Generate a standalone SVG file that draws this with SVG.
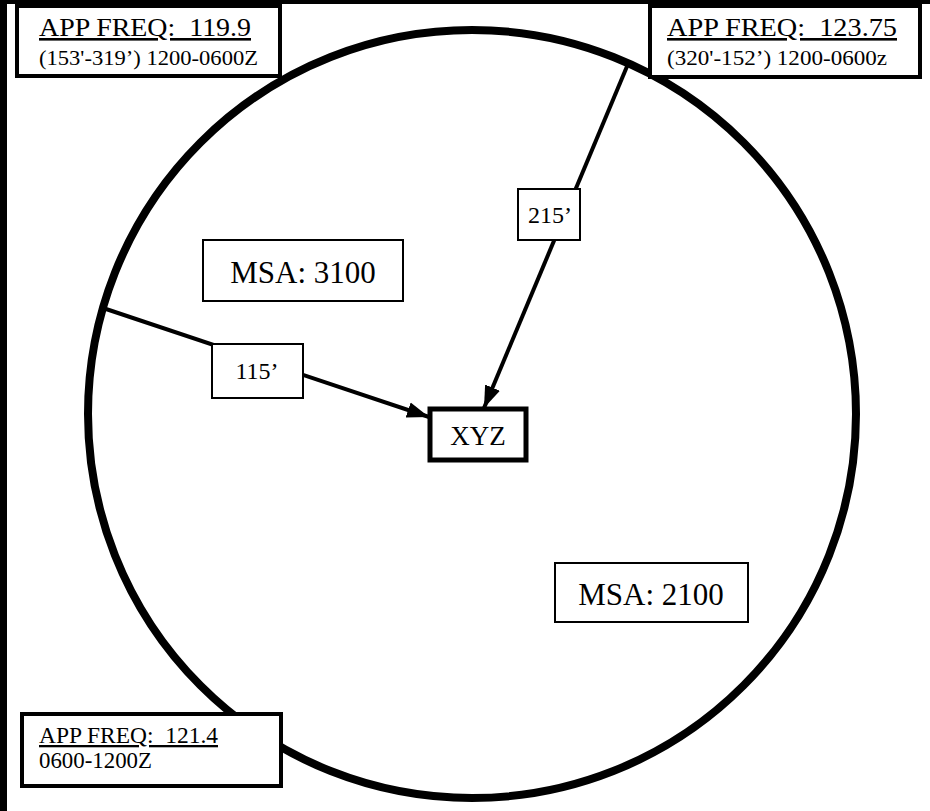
<svg xmlns="http://www.w3.org/2000/svg" width="930" height="811" viewBox="0 0 930 811">
  <defs>
    <marker id="arrow" markerUnits="userSpaceOnUse" markerWidth="24" markerHeight="18" refX="22" refY="9" orient="auto">
      <path d="M0,1 L22,9 L0,17 Z" fill="#000"/>
    </marker>
  </defs>
  <style>
    .frame { fill: #000; }
    .ring { fill: none; stroke: #000; stroke-width: 8; }
    .freqbox { fill: #fff; stroke: #000; stroke-width: 4; }
    .thinbox { fill: #fff; stroke: #000; stroke-width: 2; }
    .navbox { fill: #fff; stroke: #000; stroke-width: 5; }
    .conn { stroke: #000; stroke-width: 4; fill: none; marker-end: url(#arrow); }
    text { font-family: "Liberation Serif", "Times New Roman", serif; fill: #000; white-space: pre; }
    .u { text-decoration: underline; }
  </style>
  <rect width="930" height="811" fill="#fff"/>
  <g id="frame">
    <rect class="frame" x="0" y="0" width="7" height="811"/>
    <rect class="frame" x="0" y="0" width="930" height="4"/>
  </g>
  <g id="msa-circle">
    <circle class="ring" cx="472" cy="414" r="384"/>
  </g>
  <g id="connectors">
    <line class="conn" x1="103" y1="308" x2="429" y2="417"/>
    <line class="conn" x1="628" y1="64" x2="484" y2="408"/>
  </g>
  <g id="freq-119-9">
    <rect class="freqbox" x="17" y="6" width="263" height="70"/>
    <text class="u" x="39" y="36" font-size="26" textLength="212" lengthAdjust="spacingAndGlyphs">APP FREQ:  119.9</text>
    <text x="39" y="65" font-size="21" textLength="219" lengthAdjust="spacingAndGlyphs">(153'-319’) 1200-0600Z</text>
  </g>
  <g id="freq-123-75">
    <rect class="freqbox" x="650" y="6" width="270" height="71"/>
    <text class="u" x="667" y="36" font-size="26" textLength="230" lengthAdjust="spacingAndGlyphs">APP FREQ:  123.75</text>
    <text x="667" y="65" font-size="21" textLength="220" lengthAdjust="spacingAndGlyphs">(320'-152’) 1200-0600z</text>
  </g>
  <g id="freq-121-4">
    <rect class="freqbox" x="22" y="714" width="259" height="72"/>
    <text class="u" x="39" y="743" font-size="23" textLength="179" lengthAdjust="spacingAndGlyphs">APP FREQ:  121.4</text>
    <text x="39" y="768" font-size="23" textLength="113" lengthAdjust="spacingAndGlyphs">0600-1200Z</text>
  </g>
  <g id="msa-3100">
    <rect class="thinbox" x="203" y="240" width="200" height="61"/>
    <text x="303" y="283" font-size="31" text-anchor="middle">MSA: 3100</text>
  </g>
  <g id="msa-2100">
    <rect class="thinbox" x="555" y="563" width="193" height="59"/>
    <text x="651" y="605" font-size="31" text-anchor="middle">MSA: 2100</text>
  </g>
  <g id="label-115">
    <rect class="thinbox" x="212" y="344" width="91" height="54"/>
    <text x="257" y="379" font-size="24" text-anchor="middle">115’</text>
  </g>
  <g id="label-215">
    <rect class="thinbox" x="518" y="189" width="62" height="51"/>
    <text x="550" y="223" font-size="24" text-anchor="middle">215’</text>
  </g>
  <g id="xyz">
    <rect class="navbox" x="430" y="409" width="96" height="51"/>
    <text x="478" y="445" font-size="27" text-anchor="middle">XYZ</text>
  </g>
</svg>
